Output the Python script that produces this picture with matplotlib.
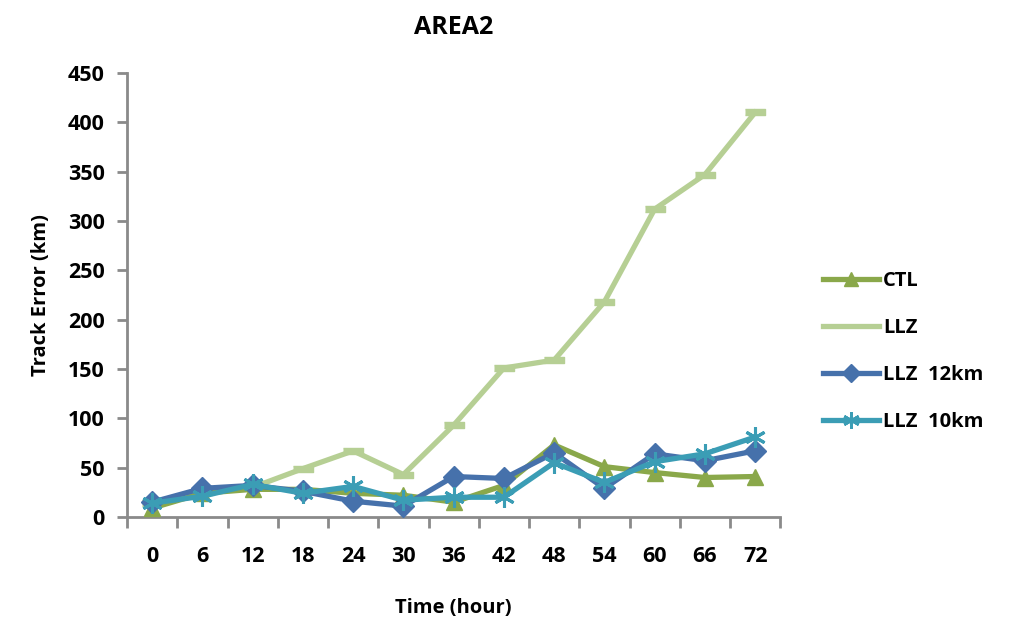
import matplotlib
matplotlib.use("Agg")
import matplotlib.pyplot as plt
from matplotlib.lines import Line2D
import numpy as np

plt.rcParams["font.family"] = ["Open Sans", "DejaVu Sans"]
plt.rcParams["font.weight"] = "bold"

hours = [0, 6, 12, 18, 24, 30, 36, 42, 48, 54, 60, 66, 72]
ctl = [9, 24, 28, 28, 24, 22, 15, 32, 73, 51, 45, 40, 41]
llz = [14, 25, 30, 49, 67, 43, 93, 151, 159, 218, 312, 347, 410]
llz_12km = [15, 29, 32, 26, 16, 11, 41, 39, 65, 29, 64, 57, 67]
llz_10km = [14, 21, 33, 24, 31, 17, 20, 20, 55, 35, 56, 64, 81]

C_CTL = "#8aa84a"
C_LLZ = "#b6cf94"
C_12 = "#4671ab"
C_10 = "#3b9db5"
SPINE = "#8a8a8a"

fig = plt.figure(figsize=(10.12, 6.28), dpi=100)
ax = fig.add_axes([0.1255, 0.1768, 0.6455, 0.707])
x = np.arange(len(hours))

lw = 3.8
ax.plot(x, ctl, color=C_CTL, lw=lw, marker="^", ms=12, zorder=3)
ax.plot(x, llz, color=C_LLZ, lw=lw, zorder=2)
ax.plot(x, llz, ls="none", marker=[(-2, -0.7), (2, -0.7), (2, 0.7), (-2, 0.7)],
        ms=14, color=C_LLZ, zorder=2)
ax.plot(x, llz_12km, color=C_12, lw=lw, marker="D", ms=11, zorder=4)
ax.plot(x, llz_10km, color=C_10, lw=lw, marker=(6, 2, 0), ms=15, mew=2.2, zorder=5)

ax.set_xlim(-0.5, len(hours) - 0.5)
ax.set_ylim(0, 450)
ax.set_yticks(range(0, 451, 50))
ax.set_xticks(x)
ax.set_xticklabels([str(h) for h in hours])
ax.set_xticks(np.arange(-0.5, len(hours), 1), minor=True)
ax.tick_params(axis="x", which="major", length=0, pad=21, labelsize=15.5)
ax.tick_params(axis="x", which="minor", length=8, width=2, color=SPINE)
ax.tick_params(axis="y", length=7, width=2, color=SPINE, pad=9, labelsize=15.5)

for s in ["top", "right"]:
    ax.spines[s].set_visible(False)
for s in ["left", "bottom"]:
    ax.spines[s].set_color(SPINE)
    ax.spines[s].set_linewidth(2)

ax.set_title("AREA2", fontsize=18, fontweight="bold", pad=28)
ax.set_xlabel("Time (hour)", fontsize=14.5, fontweight="bold", labelpad=22)
ax.set_ylabel("Track Error (km)", fontsize=14.5, fontweight="bold", labelpad=12)

handles = [
    Line2D([], [], color=C_CTL, lw=lw, marker="^", ms=10),
    Line2D([], [], color=C_LLZ, lw=lw),
    Line2D([], [], color=C_12, lw=lw, marker="D", ms=9),
    Line2D([], [], color=C_10, lw=lw, marker=(6, 2, 0), ms=12, mew=2),
]
fig.legend(handles, ["CTL", "LLZ", "LLZ  12km", "LLZ  10km"],
           loc="center left", bbox_to_anchor=(0.795, 0.44), frameon=False,
           fontsize=14.5, handlelength=2.8, labelspacing=1.35, handletextpad=0.2)

fig.savefig("out.png", dpi=100)
